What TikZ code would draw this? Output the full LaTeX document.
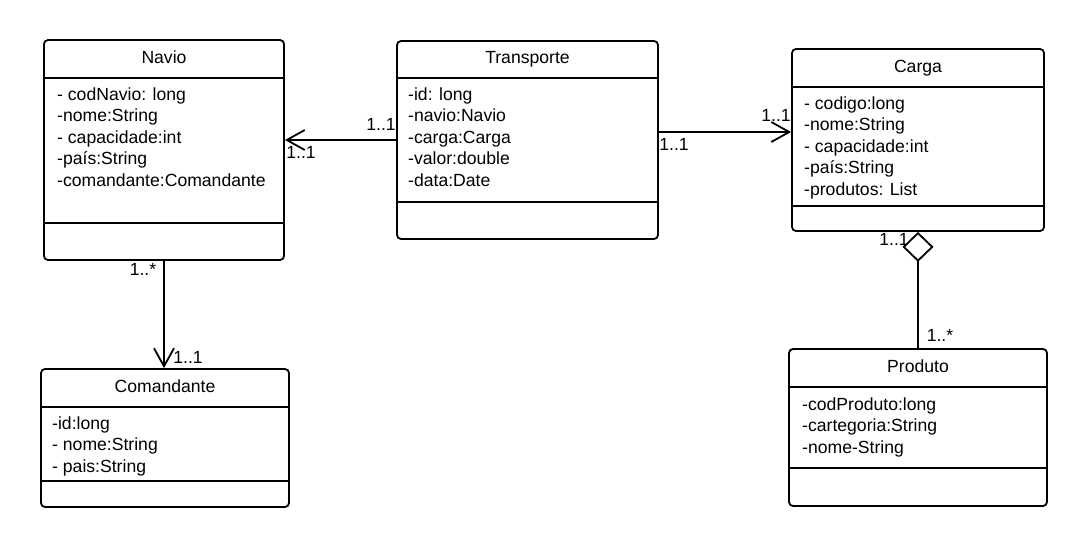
\documentclass[tikz,border=0pt]{standalone}
\usepackage{fontspec}
\setmainfont{Liberation Sans}
\usetikzlibrary{arrows.meta}
\def\compart#1#2{\draw[classline] (#1.west |- 0,#2) -- (#1.east |- 0,#2);}

\begin{document}
\begin{tikzpicture}[x=1pt,y=-1pt,
  font=\fontsize{17.6}{21.6}\selectfont,
  classbox/.style={draw,rounded corners=4pt,line width=1.8pt,inner sep=0pt},
  classline/.style={line width=1.8pt},
  attrs/.style={align=left,anchor=base west,inner sep=0pt}, % base = last line
  mult/.style={inner sep=0pt},
  assoc/.style={line width=1.8pt,-{Straight Barb[length=18pt,width=20pt,line width=1.8pt]}},
  aggr/.style={line width=1.8pt,-{Diamond[open,length=30pt,width=31pt,line width=1.8pt]}}]
\useasboundingbox (0,0) rectangle (1087,546);

% classes
\node[classbox,minimum width=240pt,minimum height=220pt] (navio) at (164,150) {};
\compart{navio}{78}
\compart{navio}{223}
\node[anchor=base] (navio-t) at (navio.north |- 0,63) {Navio};
\node[attrs] (navio-a) at (57,186.4) {- codNavio: long\\-nome:String\\- capacidade:int\\-país:String\\-comandante:Comandante};

\node[classbox,minimum width=261pt,minimum height=198pt] (transp) at (527.5,140) {};
\compart{transp}{78}
\compart{transp}{202}
\node[anchor=base] (transp-t) at (transp.north |- 0,63) {Transporte};
\node[attrs] (transp-a) at (408,186.4) {-id: long\\-navio:Navio\\-carga:Carga\\-valor:double\\-data:Date};

\node[classbox,minimum width=252pt,minimum height=182pt] (carga) at (918,140) {};
\compart{carga}{87}
\compart{carga}{206}
\node[anchor=base] (carga-t) at (carga.north |- 0,72) {Carga};
\node[attrs] (carga-a) at (804,195.4) {- codigo:long\\-nome:String\\- capacidade:int\\-país:String\\-produtos: List};

\node[classbox,minimum width=248pt,minimum height=138pt] (coman) at (165,438) {};
\compart{coman}{407}
\compart{coman}{481}
\node[anchor=base] (coman-t) at (coman.north |- 0,392) {Comandante};
\node[attrs] (coman-a) at (52,472.2) {-id:long\\- nome:String\\- pais:String};

\node[classbox,minimum width=258pt,minimum height=157pt] (prod) at (918,427.5) {};
\compart{prod}{387}
\compart{prod}{468}
\node[anchor=base] (prod-t) at (prod.north |- 0,372) {Produto};
\node[attrs] (prod-a) at (802,453.2) {-codProduto:long\\-cartegoria:String\\-nome-String};

% associations
\draw[assoc] (transp.west) -- (transp.west -| navio.east);
\draw[assoc] ([yshift=8pt]transp.east) -- ([yshift=8pt]transp.east -| carga.west);
\draw[assoc] (navio.south) -- (navio.south |- coman.north);
\draw[aggr] (prod.north) -- (carga.south);

% multiplicities
\node[mult] (m-tn) at (381,124) {1..1};
\node[mult] (m-nt) at (301,152) {1..1};
\node[mult] (m-tc) at (674,144) {1..1};
\node[mult] (m-ct) at (776,115) {1..1};
\node[mult] (m-nc) at (143,269) {1..*};
\node[mult] (m-cn) at (188,357) {1..1};
\node[mult] (m-cp) at (894,239) {1..1};
\node[mult] (m-pc) at (940,335) {1..*};
\end{tikzpicture}
\end{document}
